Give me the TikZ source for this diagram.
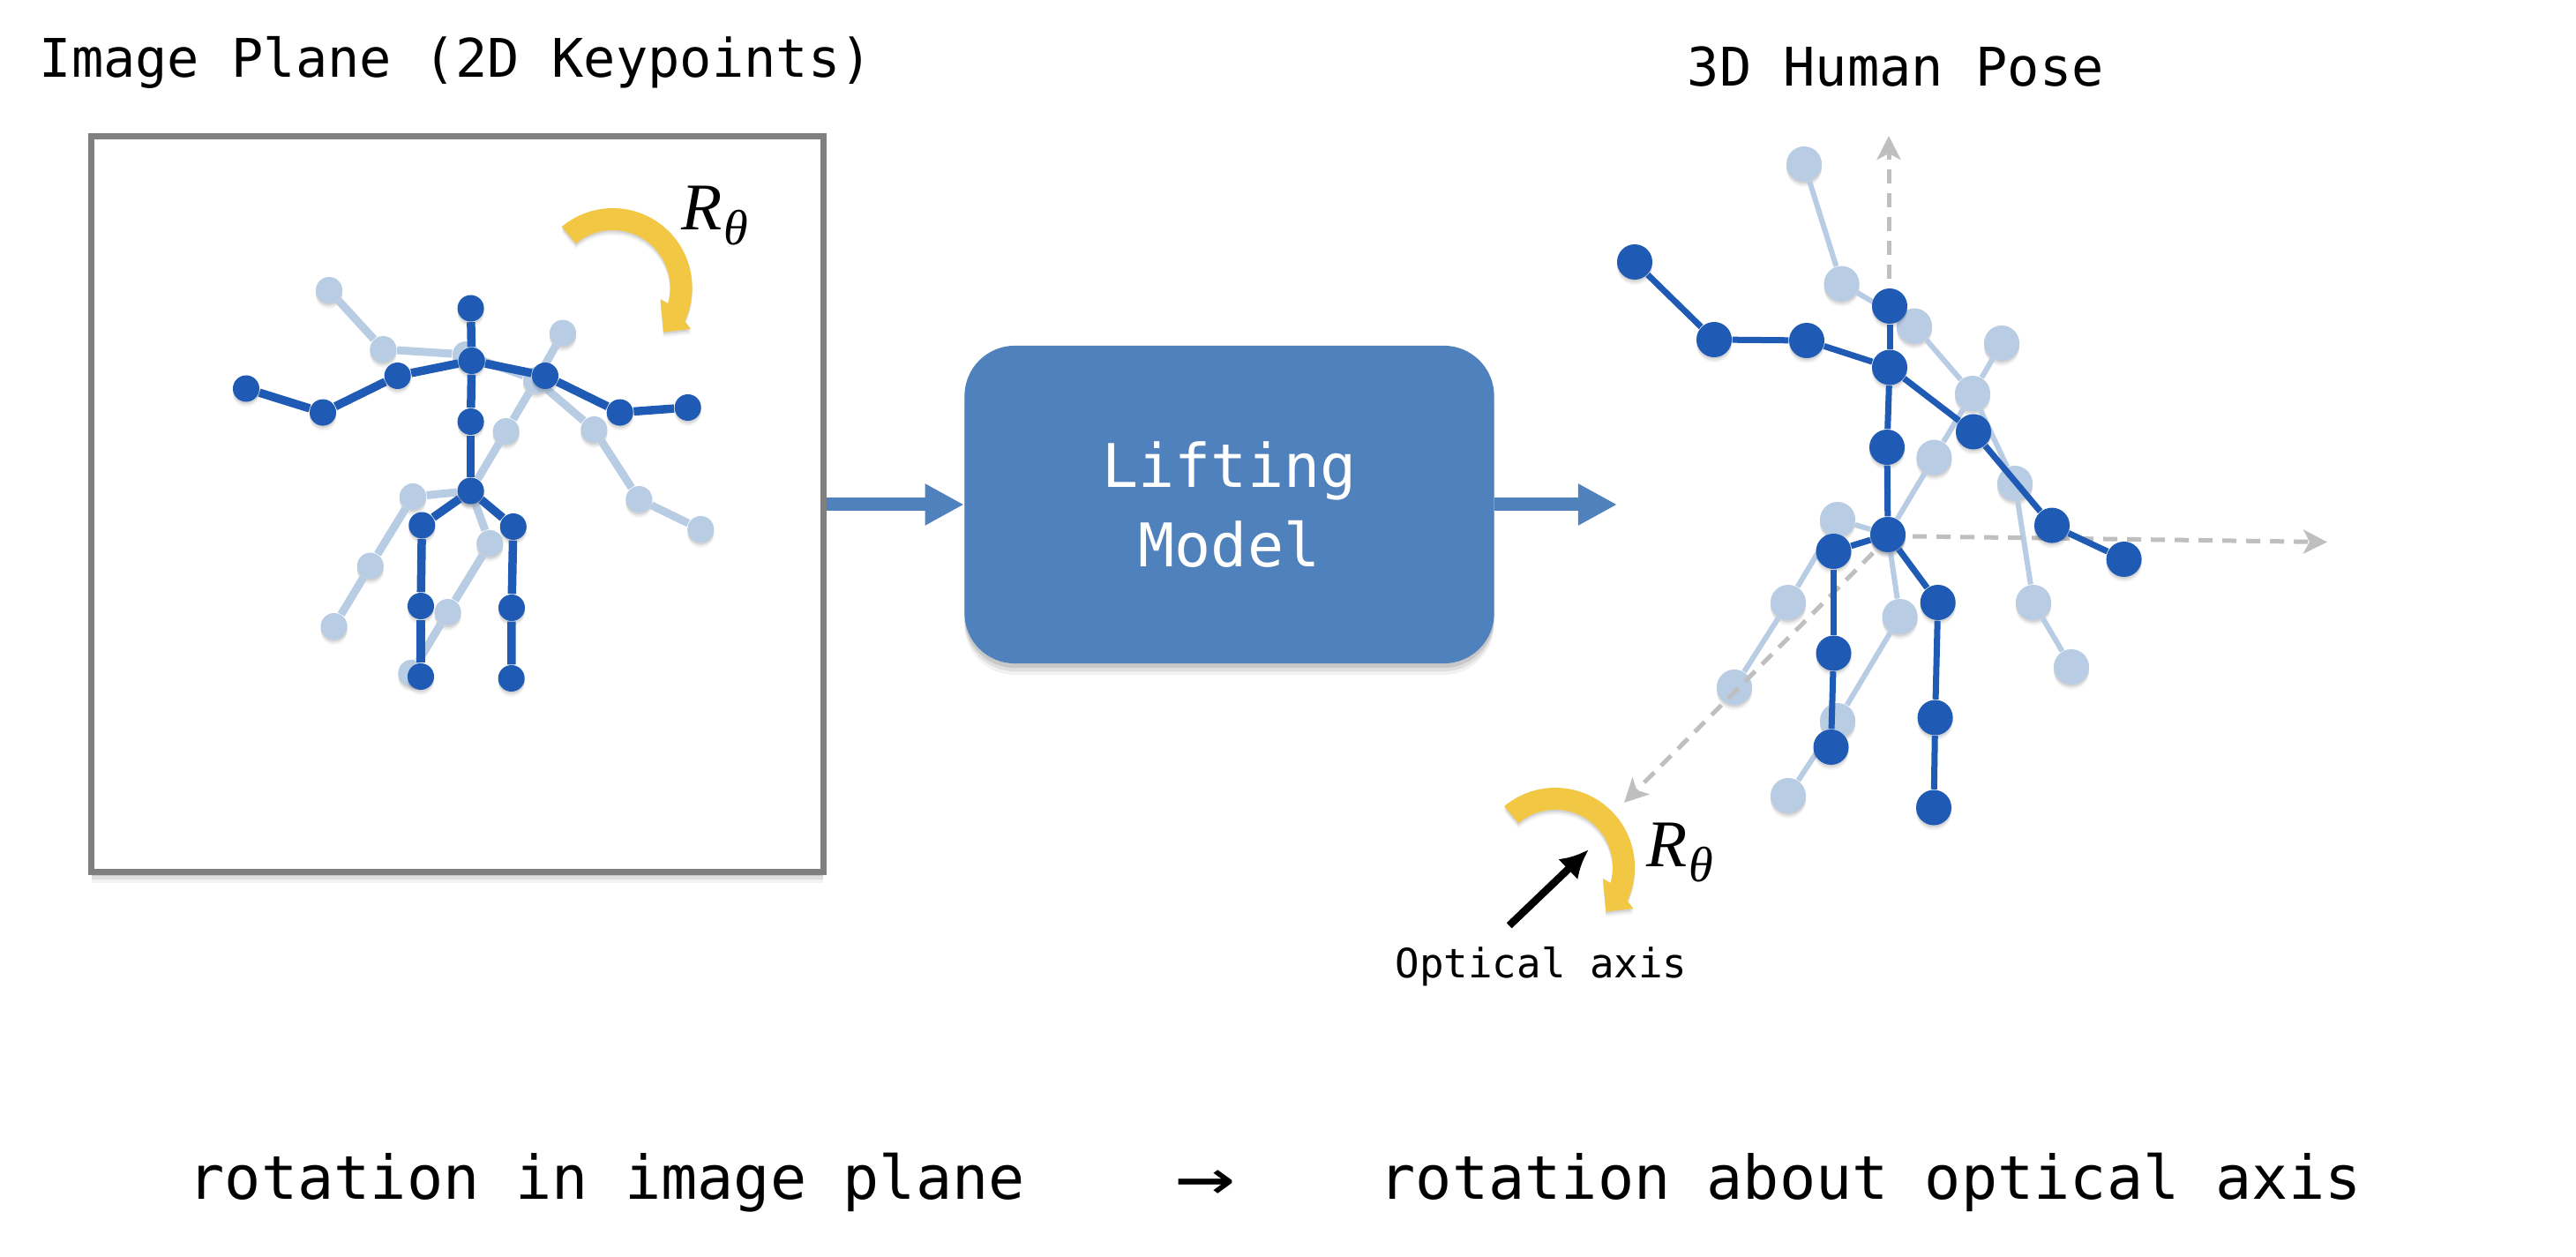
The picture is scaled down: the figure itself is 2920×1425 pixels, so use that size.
\documentclass[tikz,border=0pt]{standalone}
\usepackage{fontspec}
\usepackage{graphicx}
\setmonofont{DejaVu Sans Mono}
\newfontfamily\rotfont{Liberation Serif}
\usetikzlibrary{arrows.meta,shadows}
\definecolor{jointdark}{HTML}{1F5BB5}
\definecolor{jointlight}{HTML}{B8CCE4}
\definecolor{modelblue}{HTML}{4F81BD}
\definecolor{turnyellow}{HTML}{F2C744}
\definecolor{framegray}{HTML}{7F7F7F}
\definecolor{axisgray}{HTML}{BFBFBF}
\newcommand{\rottheta}{{\rotfont\itshape\fontsize{21.5}{24}\selectfont R\kern0.02cm\raisebox{-0.16cm}{\fontsize{16}{18}\selectfont θ}}}
\tikzset{
  softshadow/.style={
    general shadow={shadow xshift=0cm,shadow yshift=-0.06cm,opacity=.04,fill=black},
    general shadow={shadow xshift=0cm,shadow yshift=-0.04cm,opacity=.06,fill=black},
    general shadow={shadow xshift=0cm,shadow yshift=-0.02cm,opacity=.08,fill=black}},
  wideshadow/.style={
    general shadow={shadow xshift=0cm,shadow yshift=-0.13cm,opacity=.05,fill=black},
    general shadow={shadow xshift=0cm,shadow yshift=-0.09cm,opacity=.08,fill=black},
    general shadow={shadow xshift=0cm,shadow yshift=-0.05cm,opacity=.10,fill=black}},
  dotsmalldark/.style={circle,inner sep=0pt,minimum size=0.30cm,fill=jointdark,softshadow},
  dotsmalllight/.style={circle,inner sep=0pt,minimum size=0.30cm,fill=jointlight,softshadow},
  dotbigdark/.style={circle,inner sep=0pt,minimum size=0.40cm,fill=jointdark,softshadow},
  dotbiglight/.style={circle,inner sep=0pt,minimum size=0.40cm,fill=jointlight,softshadow},
  bonesmalldark/.style={draw=jointdark,line width=0.095cm},
  bonesmalllight/.style={draw=jointlight,line width=0.09cm},
  bonebigdark/.style={draw=jointdark,line width=0.07cm},
  bonebiglight/.style={draw=jointlight,line width=0.06cm},
  axisline/.style={draw=axisgray,line width=0.05cm,dash pattern=on 0.16cm off 0.11cm,
    -{Stealth[length=0.27cm,width=0.27cm,inset=0.07cm]}},
  flowarrow/.style={draw=modelblue,line width=0.15cm,
    -{Triangle[length=0.44cm,width=0.44cm]},
    general shadow={shadow xshift=0cm,shadow yshift=-0.05cm,opacity=.14,fill=black}},
  headtext/.style={inner sep=0pt,anchor=base west,font=\ttfamily\fontsize{17.15}{20}\selectfont},
  bigtext/.style={inner sep=0pt,anchor=base west,font=\ttfamily\fontsize{19.47}{23}\selectfont},
  rotlabel/.style={inner sep=0pt,anchor=base west},
  turn/.pic={
    \path[fill=turnyellow,softshadow]
      (-57.9,-68.9) arc[start angle=130,end angle=-25,radius=0.9cm]
      -- (88.4,47) -- (57.5,50.5) -- (54,13) -- (62.5,17.9)
      arc[start angle=-16,end angle=130,radius=0.65cm] -- cycle;
  }
}
\begin{document}
\begin{tikzpicture}[x=0.01cm,y=-0.01cm]
\useasboundingbox (0,0) rectangle (2920,1425);
\fill[white] (0,0) rectangle (2920,1425);

% titles
\node[headtext] (titleL) at (44,88) {Image Plane (2D Keypoints)};
\node[headtext] (titleR) at (1912,98) {3D Human Pose};

% image plane and lifting block
\node[draw=framegray,fill=white,line width=0.07cm,minimum width=8.29cm,minimum height=8.33cm,
  inner sep=0pt,wideshadow] (frame) at (518.5,571.5) {};
\node[fill=modelblue,rounded corners=0.57cm,minimum width=6cm,minimum height=3.6cm,inner sep=0pt,
  wideshadow,text=white,align=center,font=\ttfamily\fontsize{19.4}{25.6}\selectfont]
  (model) at (1393.5,572) {Lifting\\Model};

% 2D pose, rotated copy
\foreach \n/\x/\y in {wl/373/329,el/434.4/396,sl/528/402,nk/608/431,hd/638/377.6,sr/673.4/487,
    er/724.4/566,wr/794.3/600,sp/573.7/489,hp/533.6/556.5,hl/468/563,kl/419.8/641.6,al/378.6/710,
    hr/555.3/616,kr/507.6/694,ar/466.4/763}
  \node[dotsmalllight] (P\n) at (\x,\y) {};
\foreach \a/\b in {wl/el,el/sl,sl/nk,nk/hd,nk/sr,sr/er,er/wr,nk/sp,sp/hp,hp/hl,hl/kl,kl/al,hp/hr,hr/kr,kr/ar}
  \draw[bonesmalllight] (P\a) -- (P\b);

% 2D pose, upright
\foreach \n/\x/\y in {hd/533.6/349.5,nk/534.7/409,sp/533.6/478,hp/533.6/556.5,sl/450.7/426,el/366/467.6,
    wl/279/440.5,sr/618/426,er/702.7/467.6,wr/779.7/462,hl/478.3/595.5,kl/477/687,al/477/767,
    hr/581.8/597,kr/580/689,ar/579.7/769}
  \node[dotsmalldark] (Q\n) at (\x,\y) {};
\foreach \a/\b in {hd/nk,nk/sp,sp/hp,nk/sl,sl/el,el/wl,nk/sr,sr/er,er/wr,hp/hl,hl/kl,kl/al,hp/hr,hr/kr,kr/ar}
  \draw[bonesmalldark] (Q\a) -- (Q\b);

% rotation mark and its label, image plane
\pic at (694.6,326) {turn};
\node[rotlabel] (rotL) at (772,261) {\rottheta};

% connections through the lifting block
\draw[flowarrow] (frame.east |- model.west) -- (model.west);
\coordinate (poseIn) at (1833,572);
\draw[flowarrow] (model.east) -- (poseIn);

% 3D pose, rotated copy
\foreach \n/\x/\y in {wl/2045/186,el/2087.6/321.6,sl/2170/369.6,hd/2269/389,nk/2236/446,sp/2192.4/518.6,
    sr/2284/548,er/2305/683,wr/2348/756,hp/2140/606,hl/2083/589,kl/2027/683,al/1966/779,
    hr/2153.6/699,kr/2083/817,ar/2027/902}
  \node[dotbiglight] (S\n) at (\x,\y) {};
\foreach \a/\b in {wl/el,el/sl,sl/nk,nk/hd,nk/sr,sr/er,er/wr,nk/sp,sp/hp,hp/hl,hl/kl,kl/al,hp/hr,hr/kr,kr/ar}
  \draw[bonebiglight] (S\a) -- (S\b);

% camera axes
\coordinate (axUpA) at (2141,316);
\coordinate (axUpB) at (2141,154);
\coordinate (axRtA) at (2168,608);
\coordinate (axRtB) at (2638,614.5);
\coordinate (axFwA) at (2123,627);
\coordinate (axFwB) at (1841,910);
\draw[axisline] (axUpA) -- (axUpB);
\draw[axisline] (axRtA) -- (axRtB);
\draw[axisline] (axFwA) -- (axFwB);

% 3D pose, upright
\foreach \n/\x/\y in {hd/2142/347,nk/2142/416.5,sp/2139/507,hp/2140/606,sl/2048/386,el/1943/385,
    wl/1853/297,sr/2237/489.5,er/2326/595.6,wr/2407.6/634,hl/2078.5/625,kl/2078.5/740.5,al/2075.5/847,
    hr/2196.7/683,kr/2193.6/813.5,ar/2192/915.5}
  \node[dotbigdark] (T\n) at (\x,\y) {};
\foreach \a/\b in {hd/nk,nk/sp,sp/hp,nk/sl,sl/el,el/wl,nk/sr,sr/er,er/wr,hp/hl,hl/kl,kl/al,hp/hr,hr/kr,kr/ar}
  \draw[bonebigdark] (T\a) -- (T\b);

% rotation about the optical axis
\pic at (1763,983) {turn};
\node[rotlabel] (rotR) at (1866,983) {\rottheta};
\coordinate (opticTail) at (1710.7,1049.3);
\coordinate (opticTip) at (1800.7,963.3);
\draw[line width=0.085cm,-{Latex[length=0.32cm,width=0.32cm]},
  general shadow={shadow xshift=0cm,shadow yshift=-0.04cm,opacity=.12,fill=black}] (opticTail) -- (opticTip);
\node[inner sep=0pt,anchor=base west,font=\ttfamily\fontsize{13.02}{15}\selectfont] (opticLabel) at (1581,1108) {Optical axis};

% caption
\node[bigtext] (capL) at (213,1359) {rotation in image plane};
\node[inner sep=0pt,anchor=base,font=\ttfamily\fontsize{19.47}{23}\selectfont] (capArrow) at (1366,1362) {\scalebox{1.65}[1.2]{→}};
\node[bigtext] (capR) at (1563,1359) {rotation about optical axis};
\end{tikzpicture}
\end{document}
